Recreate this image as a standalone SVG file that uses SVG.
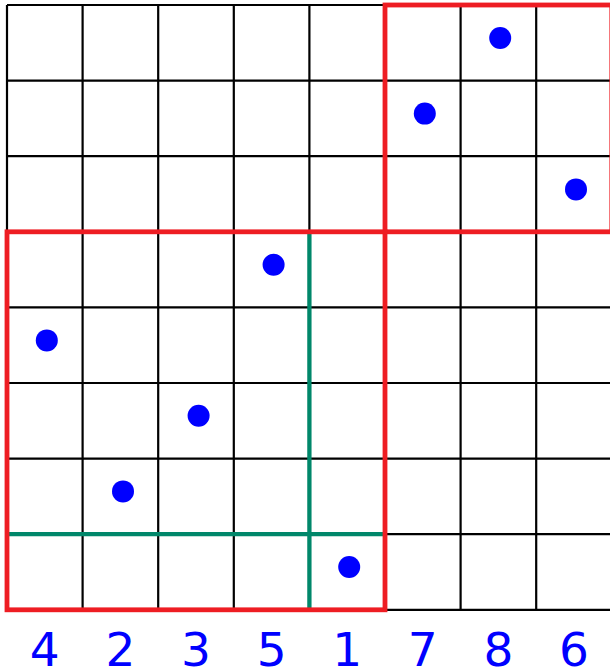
<svg xmlns="http://www.w3.org/2000/svg" width="610" height="672" viewBox="0 0 610 672">
<style>
.grid{stroke:#000;stroke-width:2.2;fill:none}
.red{stroke:#ee1d23;stroke-width:4.8;fill:none}
.green{stroke:#00876a;stroke-width:4.3;fill:none;stroke-linecap:butt}
.dot{fill:#0000ff}
.lbl{font-family:"DejaVu Sans",sans-serif;font-size:47px;fill:#0000ff;text-anchor:middle}
</style>
<rect width="610" height="672" fill="#fff"/>
<g id="grid" class="grid">
<path d="M7,5V609.8M82.6,5V609.8M158.2,5V609.8M233.8,5V609.8M309.4,5V609.8M385,5V609.8M460.6,5V609.8M536.2,5V609.8M611.8,5V609.8"/>
<path d="M7,5H611.8M7,80.6H611.8M7,156.2H611.8M7,231.8H611.8M7,307.4H611.8M7,383H611.8M7,458.6H611.8M7,534.2H611.8M7,609.8H611.8"/>
</g>
<g id="connectors">
<path class="green" d="M309.4,231.8V609.8M7,534.2H385"/>
<rect id="box-top" class="red" x="385" y="5" width="226.8" height="226.8"/>
<rect id="box-bottom" class="red" x="7" y="231.8" width="378" height="378"/>
</g>
<g id="dots">
<circle id="d1" class="dot" cx="349.2" cy="567" r="11"/>
<circle id="d2" class="dot" cx="123" cy="491.4" r="11"/>
<circle id="d3" class="dot" cx="198.6" cy="415.8" r="11"/>
<circle id="d4" class="dot" cx="46.8" cy="340.4" r="11"/>
<circle id="d5" class="dot" cx="273.6" cy="264.8" r="11"/>
<circle id="d6" class="dot" cx="576" cy="189.4" r="11"/>
<circle id="d7" class="dot" cx="424.8" cy="113.6" r="11"/>
<circle id="d8" class="dot" cx="500.2" cy="38" r="11"/>
</g>
<g id="labels">
<text class="lbl" x="44.8" y="666">4</text>
<text class="lbl" x="120.4" y="666">2</text>
<text class="lbl" x="196" y="666">3</text>
<text class="lbl" x="271.6" y="666">5</text>
<text class="lbl" x="347.2" y="666">1</text>
<text class="lbl" x="422.8" y="666">7</text>
<text class="lbl" x="498.4" y="666">8</text>
<text class="lbl" x="574" y="666">6</text>
</g>
</svg>
